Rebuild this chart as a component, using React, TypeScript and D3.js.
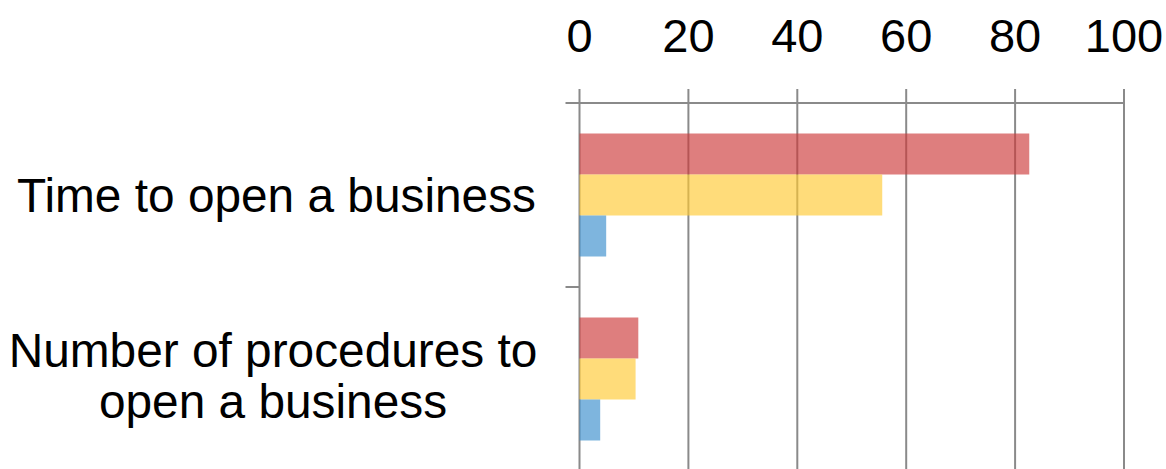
import React from "react";
import * as d3 from "d3";

// Categories (top to bottom) and series values
const categories = ["Time to open a business", "Number of procedures to open a business"];
const categoryLines = [["Time to open a business"], ["Number of procedures to", "open a business"]];
const seriesNames = ["Series A", "Series B", "Series C"];
const seriesA = [82.6, 10.8];
const seriesB = [55.6, 10.3];
const seriesC = [4.9, 3.8];
const seriesValues = [seriesA, seriesB, seriesC];
const tickValues = [0, 20, 40, 60, 80, 100];
const seriesColors = ["rgb(204,57,57)", "rgb(255,201,50)", "rgb(57,141,204)"];

const W = 1166;
const H = 469;
const FONT = "'Liberation Sans', Arial, sans-serif";

export default function App() {
  const x = d3.scaleLinear().domain([0, 100]).range([579.5, 1124]);
  const y = d3.scaleBand<string>().domain(categories).range([103, 471]).paddingInner(0).paddingOuter(0);
  const sub = d3
    .scaleBand<string>()
    .domain(seriesNames)
    .range([0, y.bandwidth()])
    .paddingInner(0)
    .paddingOuter(0.744);

  const axisY = 103;
  const gridColor = "#8a8a8a";
  const labelSize = 47.8;

  return (
    <svg
      width={W}
      height={H}
      style={{ position: "absolute", left: 0, top: 0, background: "#fff" }}
      fontFamily={FONT}
    >
      {/* gridlines and top tick marks */}
      {tickValues.map((t) => (
        <line
          key={"g" + t}
          x1={x(t)}
          x2={x(t)}
          y1={axisY - 14}
          y2={H}
          stroke={gridColor}
          strokeWidth={2}
        />
      ))}
      {/* top axis line */}
      <line x1={x(0) - 14} x2={x(100)} y1={axisY} y2={axisY} stroke={gridColor} strokeWidth={2} />
      {/* category separator ticks */}
      {categories.slice(1).map((c) => (
        <line
          key={"s" + c}
          x1={x(0) - 14}
          x2={x(0)}
          y1={y(c)!}
          y2={y(c)!}
          stroke={gridColor}
          strokeWidth={2}
        />
      ))}
      {/* bars, translucent over gridlines */}
      {categories.map((c, ci) =>
        seriesNames.map((s, si) => (
          <rect
            key={c + s}
            x={x(0)}
            y={y(c)! + sub(s)!}
            width={x(seriesValues[si][ci]) - x(0)}
            height={sub.bandwidth()}
            fill={seriesColors[si]}
            fillOpacity={0.65}
          />
        ))
      )}
      {/* tick labels */}
      {tickValues.map((t) => (
        <text key={"t" + t} x={x(t)} y={52} fontSize={47} textAnchor="middle" fill="#000">
          {t}
        </text>
      ))}
      {/* category labels */}
      {categories.map((c, ci) => {
        const lines = categoryLines[ci];
        const mid = y(c)! + y.bandwidth() / 2;
        if (lines.length === 1) {
          return (
            <text key={"c" + c} x={536} y={mid + 17} fontSize={labelSize} textAnchor="end" fill="#000">
              {lines[0]}
            </text>
          );
        }
        return (
          <text key={"c" + c} x={273} fontSize={labelSize} textAnchor="middle" fill="#000">
            {lines.map((ln, li) => (
              <tspan key={li} x={273} y={mid - 12 + li * 51}>
                {ln}
              </tspan>
            ))}
          </text>
        );
      })}
    </svg>
  );
}
